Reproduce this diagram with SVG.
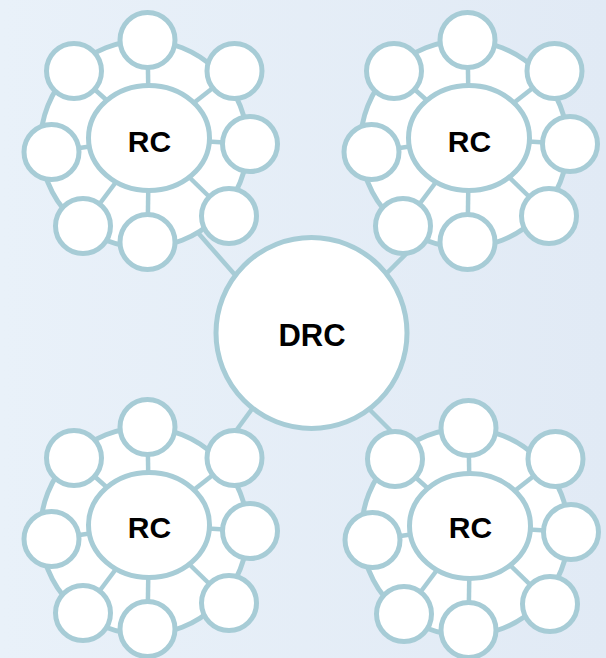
<svg xmlns="http://www.w3.org/2000/svg" width="606" height="658" viewBox="0 0 606 658">
  <defs>
    <linearGradient id="bg" x1="0" y1="0" x2="1" y2="0">
      <stop offset="0" stop-color="#e9f1f9"/>
      <stop offset="1" stop-color="#e1eaf5"/>
    </linearGradient>
    <style>
      .s{fill:#ffffff;stroke:#a7ccd6;stroke-width:5}
      .ln{stroke:#a7ccd6;stroke-width:4.5;fill:none}
      .t{font-family:"Liberation Sans",Arial,sans-serif;font-weight:bold;font-size:30px;fill:#000;text-anchor:middle}
    </style>
  </defs>
  <rect x="0" y="0" width="606" height="658" fill="url(#bg)"/>

  <g id="connectors">
    <line class="ln" x1="185" y1="218" x2="250" y2="292"/>
    <line class="ln" x1="378" y1="282" x2="415" y2="245"/>
    <line class="ln" x1="260" y1="398" x2="230" y2="439"/>
    <line class="ln" x1="360" y1="400" x2="400" y2="440"/>
  </g>

  <g id="rc-top-left" transform="translate(149,138)">
    <circle class="s" cx="-5" cy="6" r="103.5"/>
    <g class="ln">
      <line x1="0" y1="0" x2="-1.5" y2="-98"/><line x1="0" y1="0" x2="-75" y2="-67"/>
      <line x1="0" y1="0" x2="85.5" y2="-67"/><line x1="0" y1="0" x2="-97.5" y2="14"/>
      <line x1="0" y1="0" x2="101" y2="6"/><line x1="0" y1="0" x2="-66" y2="88"/>
      <line x1="0" y1="0" x2="-1.5" y2="104"/><line x1="0" y1="0" x2="80" y2="78"/>
    </g>
    <ellipse class="s" cx="0" cy="0" rx="60.5" ry="52.5"/>
    <circle class="s" cx="-1.5" cy="-98" r="27.5"/><circle class="s" cx="-75" cy="-67" r="27.5"/>
    <circle class="s" cx="85.5" cy="-67" r="27.5"/><circle class="s" cx="-97.5" cy="14" r="27.5"/>
    <circle class="s" cx="101" cy="6" r="27.5"/><circle class="s" cx="-66" cy="88" r="27.5"/>
    <circle class="s" cx="-1.5" cy="104" r="27.5"/><circle class="s" cx="80" cy="78" r="27.5"/>
    <text class="t" x="0.5" y="14">RC</text>
  </g>

  <g id="rc-top-right" transform="translate(469,138)">
    <circle class="s" cx="-5" cy="6" r="103.5"/>
    <g class="ln">
      <line x1="0" y1="0" x2="-1.5" y2="-98"/><line x1="0" y1="0" x2="-75" y2="-67"/>
      <line x1="0" y1="0" x2="85.5" y2="-67"/><line x1="0" y1="0" x2="-97.5" y2="14"/>
      <line x1="0" y1="0" x2="101" y2="6"/><line x1="0" y1="0" x2="-66" y2="88"/>
      <line x1="0" y1="0" x2="-1.5" y2="104"/><line x1="0" y1="0" x2="80" y2="78"/>
    </g>
    <ellipse class="s" cx="0" cy="0" rx="60.5" ry="52.5"/>
    <circle class="s" cx="-1.5" cy="-98" r="27.5"/><circle class="s" cx="-75" cy="-67" r="27.5"/>
    <circle class="s" cx="85.5" cy="-67" r="27.5"/><circle class="s" cx="-97.5" cy="14" r="27.5"/>
    <circle class="s" cx="101" cy="6" r="27.5"/><circle class="s" cx="-66" cy="88" r="27.5"/>
    <circle class="s" cx="-1.5" cy="104" r="27.5"/><circle class="s" cx="80" cy="78" r="27.5"/>
    <text class="t" x="0.5" y="14">RC</text>
  </g>

  <g id="rc-bottom-left" transform="translate(149,525)">
    <circle class="s" cx="-5" cy="6" r="103.5"/>
    <g class="ln">
      <line x1="0" y1="0" x2="-1.5" y2="-98"/><line x1="0" y1="0" x2="-75" y2="-67"/>
      <line x1="0" y1="0" x2="85.5" y2="-67"/><line x1="0" y1="0" x2="-97.5" y2="14"/>
      <line x1="0" y1="0" x2="101" y2="6"/><line x1="0" y1="0" x2="-66" y2="88"/>
      <line x1="0" y1="0" x2="-1.5" y2="104"/><line x1="0" y1="0" x2="80" y2="78"/>
    </g>
    <ellipse class="s" cx="0" cy="0" rx="60.5" ry="52.5"/>
    <circle class="s" cx="-1.5" cy="-98" r="27.5"/><circle class="s" cx="-75" cy="-67" r="27.5"/>
    <circle class="s" cx="85.5" cy="-67" r="27.5"/><circle class="s" cx="-97.5" cy="14" r="27.5"/>
    <circle class="s" cx="101" cy="6" r="27.5"/><circle class="s" cx="-66" cy="88" r="27.5"/>
    <circle class="s" cx="-1.5" cy="104" r="27.5"/><circle class="s" cx="80" cy="78" r="27.5"/>
    <text class="t" x="0.5" y="13">RC</text>
  </g>

  <g id="rc-bottom-right" transform="translate(470,526)">
    <circle class="s" cx="-5" cy="6" r="103.5"/>
    <g class="ln">
      <line x1="0" y1="0" x2="-1.5" y2="-98"/><line x1="0" y1="0" x2="-75" y2="-67"/>
      <line x1="0" y1="0" x2="85.5" y2="-67"/><line x1="0" y1="0" x2="-97.5" y2="14"/>
      <line x1="0" y1="0" x2="101" y2="6"/><line x1="0" y1="0" x2="-66" y2="88"/>
      <line x1="0" y1="0" x2="-1.5" y2="104"/><line x1="0" y1="0" x2="80" y2="78"/>
    </g>
    <ellipse class="s" cx="0" cy="0" rx="60.5" ry="52.5"/>
    <circle class="s" cx="-1.5" cy="-98" r="27.5"/><circle class="s" cx="-75" cy="-67" r="27.5"/>
    <circle class="s" cx="85.5" cy="-67" r="27.5"/><circle class="s" cx="-97.5" cy="14" r="27.5"/>
    <circle class="s" cx="101" cy="6" r="27.5"/><circle class="s" cx="-66" cy="88" r="27.5"/>
    <circle class="s" cx="-1.5" cy="104" r="27.5"/><circle class="s" cx="80" cy="78" r="27.5"/>
    <text class="t" x="0.5" y="12">RC</text>
  </g>

  <g id="drc">
    <circle class="s" cx="311.5" cy="333" r="95.5"/>
    <text class="t" x="312" y="346" style="font-size:31px">DRC</text>
  </g>
</svg>
